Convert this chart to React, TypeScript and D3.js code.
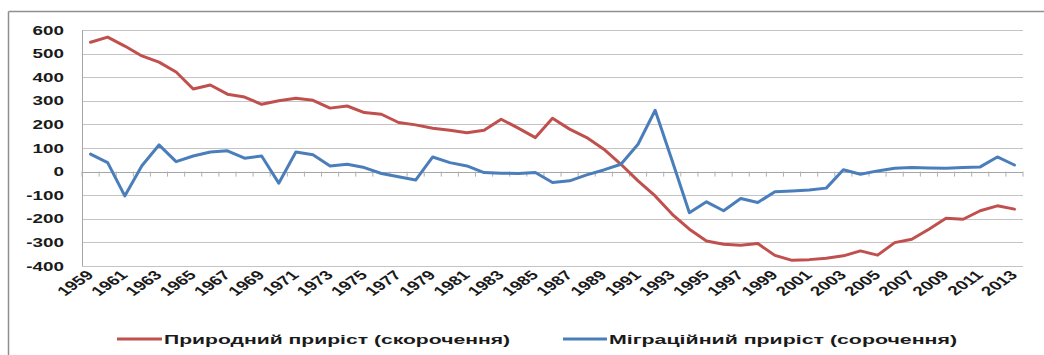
import React from "react";
import * as d3 from "d3";

const years: number[] = d3.range(1959, 2014);

const naturalGrowth: number[] = [
  548, 570, 532, 490, 464, 422, 350, 367, 328, 316,
  285, 300, 311, 302, 269, 278, 250, 243, 208, 198,
  184, 175, 165, 175, 222, 184, 144, 226, 180, 144,
  95, 31, -39, -103, -181, -244, -294, -308, -312, -305,
  -355, -376, -373, -367, -357, -336, -354, -301, -287, -244,
  -198, -202, -166, -145, -159,
];

const migrationGrowth: number[] = [
  74, 38, -103, 25, 113, 42, 66, 83, 88, 57,
  66, -49, 83, 71, 24, 31, 17, -8, -22, -36,
  62, 38, 24, -4, -7, -8, -4, -46, -39, -14,
  7, 31, 116, 260, 45, -174, -128, -166, -114, -131,
  -85, -82, -78, -70, 8, -11, 3, 14, 17, 15,
  14, 17, 20, 62, 28,
];

const yTicks: number[] = [600, 500, 400, 300, 200, 100, 0, -100, -200, -300, -400];
const xTickLabels: number[] = years.filter((y) => (y - 1959) % 2 === 0);

const seriesNames: string[] = [
  "Природний приріст (скорочення)",
  "Міграційний приріст (сорочення)",
];
const seriesColors: string[] = ["#c0504d", "#4a7ebb"];

const FONT = "'Liberation Sans', Arial, sans-serif";
const SX = 1.45;

export default function App() {
  const width = 1044;
  const height = 355;
  const plotLeft = 82;
  const plotRight = 1023;
  const plotTop = 30;
  const plotBottom = 266;

  const x = d3
    .scaleBand<number>()
    .domain(years)
    .range([plotLeft, plotRight])
    .paddingInner(0)
    .paddingOuter(0);
  const bw = x.bandwidth();
  const cx = (yr: number) => (x(yr) as number) + bw / 2;
  const y = d3.scaleLinear().domain([-400, 600]).range([plotBottom, plotTop]);

  const line = d3
    .line<number>()
    .x((_, i) => cx(years[i]))
    .y((d) => y(d));

  const series = [naturalGrowth, migrationGrowth];

  const boundaries = d3.range(years.length + 1).map((i) => plotLeft + i * bw);

  return (
    <svg
      width={width}
      height={height}
      style={{ position: "absolute", left: 0, top: 0, background: "#fff" }}
    >
      {/* chart border (top & left visible) */}
      <line x1={8.5} y1={11.5} x2={width} y2={11.5} stroke="#8f8f8f" strokeWidth={1.5} />
      <line x1={8.5} y1={11.5} x2={8.5} y2={height} stroke="#8f8f8f" strokeWidth={1.5} />

      {/* gridlines */}
      {yTicks.map((t) => (
        <line
          key={"g" + t}
          x1={plotLeft}
          x2={plotRight}
          y1={Math.round(y(t)) + 0.5}
          y2={Math.round(y(t)) + 0.5}
          stroke="#c4c4c4"
          strokeWidth={1}
        />
      ))}

      {/* y axis line */}
      <line x1={plotLeft + 0.5} x2={plotLeft + 0.5} y1={plotTop} y2={plotBottom} stroke="#a6a6a6" />

      {/* x axis at zero with ticks */}
      <line x1={plotLeft} x2={plotRight} y1={Math.round(y(0)) + 0.5} y2={Math.round(y(0)) + 0.5} stroke="#a6a6a6" />
      {boundaries.map((bx, i) => (
        <line
          key={"t" + i}
          x1={bx}
          x2={bx}
          y1={y(0)}
          y2={y(0) + 5}
          stroke="#b0b0b0"
        />
      ))}

      {/* y tick labels */}
      {yTicks.map((t) => (
        <text
          key={"yl" + t}
          transform={`translate(64,${y(t)}) scale(${SX},1)`}
          textAnchor="end"
          dy="0.36em"
          fontFamily={FONT}
          fontWeight="bold"
          fontSize={13}
          fill="#1a1a1a"
        >
          {t}
        </text>
      ))}

      {/* x tick labels */}
      {xTickLabels.map((yr) => (
        <text
          key={"xl" + yr}
          transform={`translate(${cx(yr) + 4},276) scale(${SX},1) rotate(-45)`}
          textAnchor="end"
          fontFamily={FONT}
          fontWeight="bold"
          fontSize={13}
          fill="#1a1a1a"
        >
          {yr}
        </text>
      ))}

      {/* series lines */}
      {series.map((s, i) => (
        <path
          key={"s" + i}
          d={line(s) || ""}
          fill="none"
          stroke={seriesColors[i]}
          strokeWidth={3}
          strokeLinejoin="round"
          strokeLinecap="round"
        />
      ))}

      {/* legend */}
      <line x1={117} x2={162} y1={339} y2={339} stroke={seriesColors[0]} strokeWidth={3} />
      <text
        x={164}
        y={344}
        textLength={346}
        lengthAdjust="spacingAndGlyphs"
        fontFamily={FONT}
        fontWeight="bold"
        fontSize={13.5}
        fill="#1a1a1a"
      >
        {seriesNames[0]}
      </text>
      <line x1={563} x2={607} y1={339} y2={339} stroke={seriesColors[1]} strokeWidth={3} />
      <text
        x={609}
        y={344}
        textLength={348}
        lengthAdjust="spacingAndGlyphs"
        fontFamily={FONT}
        fontWeight="bold"
        fontSize={13.5}
        fill="#1a1a1a"
      >
        {seriesNames[1]}
      </text>
    </svg>
  );
}
